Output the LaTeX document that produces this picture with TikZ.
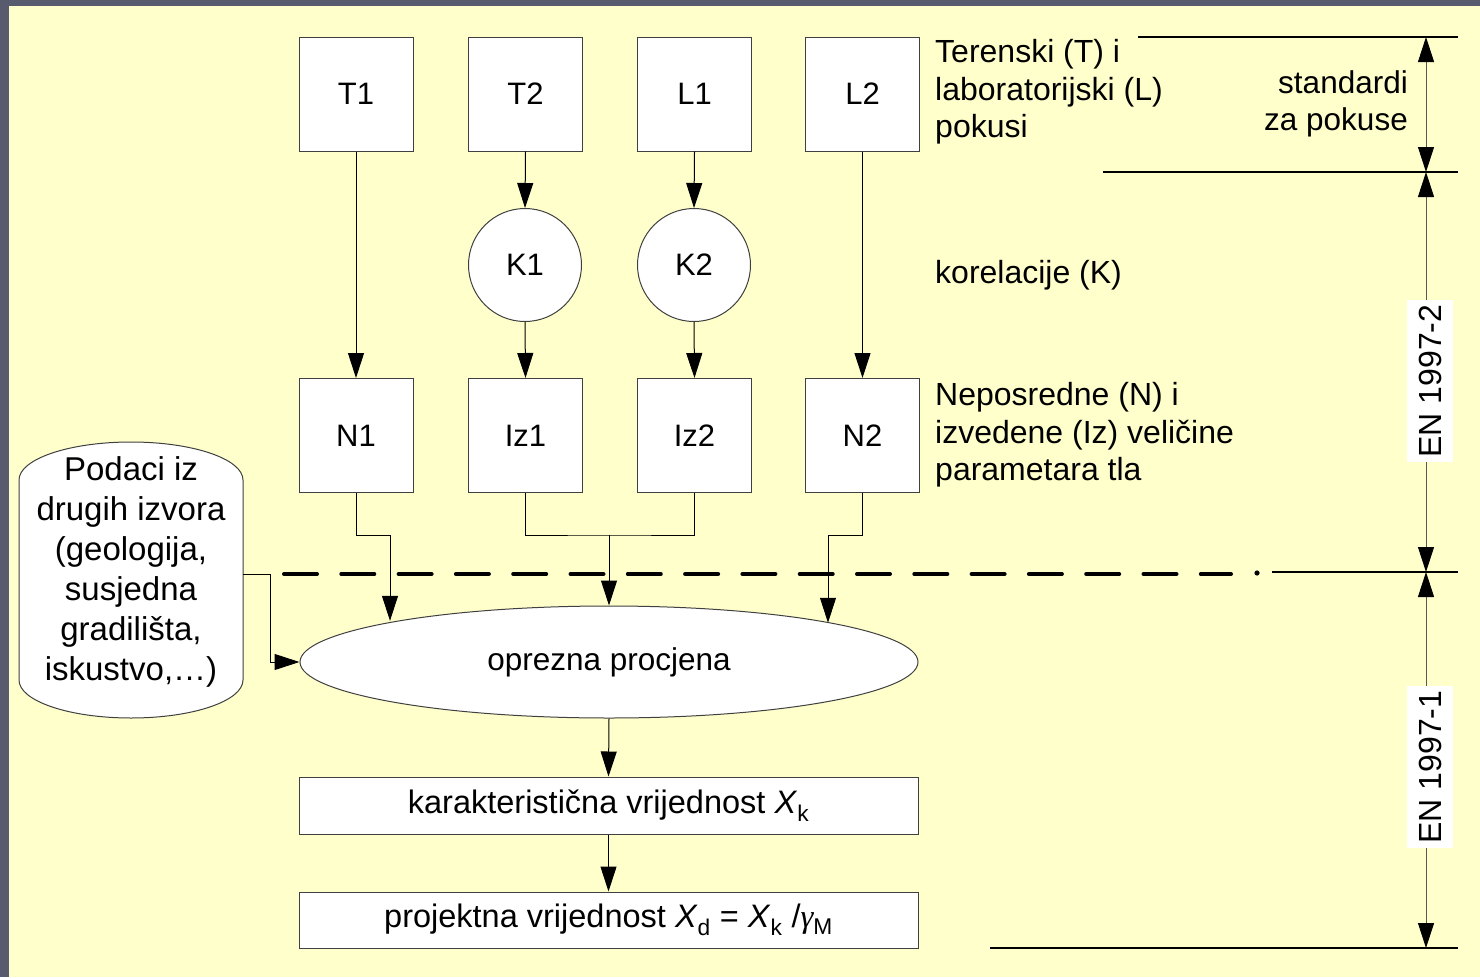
\documentclass[tikz,border=0pt]{standalone}
\usepackage{fontspec}
\setmainfont{Liberation Sans}
\newfontfamily\grfont{Liberation Serif}
\usetikzlibrary{arrows.meta,shapes.geometric}
\definecolor{bgyellow}{HTML}{FFFFCC}
\definecolor{bggray}{HTML}{585B6D}
\definecolor{edge}{HTML}{404040}
\begin{document}
\begin{tikzpicture}[x=1pt,y=-1pt,
  box/.style={draw=edge, line width=1pt, fill=white, minimum width=114pt, minimum height=114pt, inner sep=0pt, font=\fontsize{31}{36}\selectfont},
  circ/.style={circle, draw=edge, line width=1pt, fill=white, minimum size=113pt, inner sep=0pt, font=\fontsize{31}{36}\selectfont},
  wide/.style={draw=edge, line width=1pt, fill=white, minimum width=619pt, minimum height=57pt, inner sep=0pt, font=\fontsize{32.5}{36}\selectfont},
  oval/.style={ellipse, draw=edge, line width=1pt, fill=white, minimum width=618pt, minimum height=112pt, inner sep=0pt, font=\fontsize{31.5}{36}\selectfont},
  arr/.style={draw=black, line width=1pt, -{Triangle[width=16pt,length=25pt]}},
  conn/.style={draw=black, line width=1pt},
  dim/.style={draw=black!65, line width=1pt, {Triangle[width=16pt,length=25pt,color=black]}-{Triangle[width=16pt,length=25pt,color=black]}},
  rule/.style={draw=black, line width=1.6pt},
  lbl/.style={inner sep=0pt, font=\fontsize{32}{37.5}\selectfont, align=left, anchor=west},
  enlbl/.style={fill=white, rotate=90, minimum width=162pt, minimum height=46pt, inner sep=0pt, font=\fontsize{32}{36}\selectfont},
]
\useasboundingbox (0,0) rectangle (1480,977);
\fill[bggray] (0,0) rectangle (1480,977);
\fill[bgyellow] (9,6) rectangle (1480,977);

% top row
\node[box] (T1) at (356,94) {T1};
\node[box] (T2) at (525.5,94) {T2};
\node[box] (L1) at (694.5,94) {L1};
\node[box] (L2) at (862.5,94) {L2};
% correlations
\node[circ] (K1) at (525,265) {K1};
\node[circ] (K2) at (694,265) {K2};
% parameter row
\node[box] (N1) at (356,435.5) {N1};
\node[box] (Iz1) at (525.5,435.5) {Iz1};
\node[box] (Iz2) at (694.5,435.5) {Iz2};
\node[box] (N2) at (862.5,435.5) {N2};
% ellipse and results
\node[oval] (ell) at (609,662) {oprezna procjena};
\node[wide] (KV) at (608.5,805.5) {karakteristična vrijednost \textit{X}\textsubscript{k}};
\node[wide, minimum height=56pt] (PV) at (608.5,920) {projektna vrijednost \textit{X}\textsubscript{d} = \textit{X}\textsubscript{k} /{\grfont\itshape γ}\textsubscript{M}};

% other data source shape
\draw[draw=edge, line width=1pt, fill=white] (19,480) arc[start angle=180, end angle=360, x radius=112, y radius=38] -- (243,680) arc[start angle=0, end angle=180, x radius=112, y radius=38] -- cycle;
\node[inner sep=0pt, align=center, font=\fontsize{33}{40}\selectfont] (src) at (131,572) {Podaci iz\\drugih izvora\\(geologija,\\susjedna\\gradilišta,\\iskustvo,…)};
\coordinate (srcR) at (243,574);

% connectors
\draw[arr] (T1.south) -- (N1.north);
\draw[arr] (T2.south) -- (K1.north);
\draw[arr] (K1.south) -- (Iz1.north);
\draw[arr] (L1.south) -- (K2.north);
\draw[arr] (K2.south) -- (Iz2.north);
\draw[arr] (L2.south) -- (N2.north);

\coordinate (j1) at (390,535);
\coordinate (jm) at (609,535);
\coordinate (j3) at (828,535);
\draw[arr] (N1.south) |- (j1) -- (j1 |- ell.169.8);
\draw[conn] (Iz1.south) |- (jm) -| (Iz2.south);
\draw[arr] (jm) -- (ell.north);
\draw[arr] (N2.south) |- (j3) -- (j3 |- ell.10.2);
\draw[arr] (srcR) -- ++(27,0) |- (ell.west);
\draw[arr] (ell.south) -- (KV.north);
\draw[arr] (KV.south) -- (PV.north);

% dashed border line
\draw[line width=4pt, line cap=round, dash pattern=on 33pt off 24.3pt] (284,574) -- (1231,574);
\fill (1257,573) circle[radius=2.6pt];

% right labels
\node[lbl] (lblT) at (935,92) {Terenski (T) i\\laboratorijski (L)\\pokusi};
\node[lbl] (lblK) at (935,275) {korelacije (K)};
\node[lbl] (lblN) at (935,435) {Neposredne (N) i\\izvedene (Iz) veličine\\parametara tla};

% dimension lines
\coordinate (h1a) at (1138,37);  \coordinate (h1b) at (1458,37);
\coordinate (h2a) at (1103,172); \coordinate (h2b) at (1458,172);
\coordinate (h3a) at (1272,572); \coordinate (h3b) at (1458,572);
\coordinate (h4a) at (990,948);  \coordinate (h4b) at (1458,948);
\draw[rule] (h1a) -- (h1b);
\draw[rule] (h2a) -- (h2b);
\draw[rule] (h3a) -- (h3b);
\draw[rule] (h4a) -- (h4b);
\coordinate (d1) at (1426,37);
\coordinate (d2) at (1426,172);
\coordinate (d3) at (1426,572);
\coordinate (d4) at (1426,948);
\draw[dim] (d1) -- (d2);
\draw[dim] (d2) -- (d3);
\draw[dim] (d3) -- (d4);
\node[inner sep=0pt, align=right, anchor=east, font=\fontsize{31.5}{37.5}\selectfont] (std) at (1408,104) {standardi\\za pokuse};
\node[enlbl] (en2) at (1430,381) {EN 1997-2};
\node[enlbl] (en1) at (1430,767) {EN 1997-1};
\end{tikzpicture}
\end{document}
